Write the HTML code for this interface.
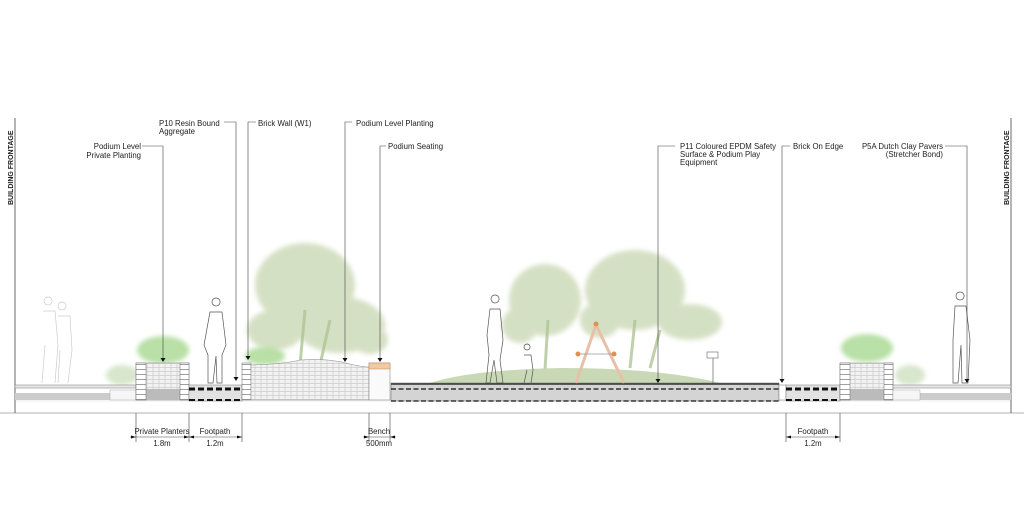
<!DOCTYPE html>
<html><head><meta charset="utf-8"><style>
html,body{margin:0;padding:0;background:#fff;}
svg{display:block;}
text{font-family:"Liberation Sans",sans-serif;font-size:7.8px;fill:#222;}
</style></head><body>
<svg width="1024" height="512" viewBox="0 0 1024 512" xmlns="http://www.w3.org/2000/svg">
<defs>
<filter id="b" x="-20%" y="-20%" width="140%" height="140%"><feGaussianBlur stdDeviation="2.5"/></filter>
<pattern id="brk" width="6" height="4" patternUnits="userSpaceOnUse"><rect width="6" height="4" fill="#f2f2f2"/><path d="M0 3.5H6M3 0V3.5" stroke="#bbb" stroke-width="0.5"/></pattern>
<pattern id="pier" width="10" height="5" patternUnits="userSpaceOnUse"><rect width="10" height="5" fill="#fff"/><path d="M0 4.5H10" stroke="#888" stroke-width="0.8"/></pattern>
</defs>

<!-- trees -->
<g fill="#c3d3aa" opacity="0.7" filter="url(#b)">
<ellipse cx="305" cy="285" rx="50" ry="42"/>
<ellipse cx="340" cy="325" rx="45" ry="28"/>
<ellipse cx="275" cy="330" rx="28" ry="20"/>
<ellipse cx="370" cy="340" rx="18" ry="14"/>
<ellipse cx="545" cy="300" rx="36" ry="36"/>
<ellipse cx="520" cy="325" rx="18" ry="18"/>
<ellipse cx="635" cy="290" rx="50" ry="40"/>
<ellipse cx="690" cy="322" rx="32" ry="18"/>
<ellipse cx="600" cy="320" rx="20" ry="18"/>
</g>
<g stroke="#b0c596" stroke-width="3" opacity="0.8">
<path d="M300 365 L305 310 M320 365 L330 320 M545 370 L548 320 M630 368 L635 320 M650 368 L660 330"/>
</g>
<!-- shrubs -->
<g filter="url(#b)">
<ellipse cx="163" cy="350" rx="26" ry="14" fill="#a8d890" opacity="0.8"/>
<ellipse cx="122" cy="375" rx="16" ry="10" fill="#cde0c0" opacity="0.8"/>
<ellipse cx="265" cy="356" rx="20" ry="9" fill="#a8d890" opacity="0.8"/>
<ellipse cx="867" cy="348" rx="26" ry="14" fill="#a8d890" opacity="0.8"/>
<ellipse cx="910" cy="375" rx="15" ry="10" fill="#cde0c0" opacity="0.8"/>
</g>
<!-- mound -->
<path d="M430 383 Q470 370 560 368 Q660 368 720 383 Z" fill="#c9d9b5"/>

<!-- baseline -->
<line x1="0" y1="413" x2="1024" y2="413" stroke="#999" stroke-width="0.8"/>
<line x1="15" y1="401" x2="1011" y2="401" stroke="#ddd" stroke-width="0.6"/>
<!-- building frontage -->
<line x1="15" y1="118" x2="15" y2="413" stroke="#444" stroke-width="0.8"/>
<line x1="1011" y1="118" x2="1011" y2="413" stroke="#444" stroke-width="0.8"/>
<text transform="translate(13,205) rotate(-90)" style="font-weight:bold;font-size:7px">BUILDING FRONTAGE</text>
<text transform="translate(1009,205) rotate(-90)" style="font-weight:bold;font-size:7px">BUILDING FRONTAGE</text>

<!-- left paving -->
<rect x="15" y="385" width="121" height="3" fill="#e8e8e8" stroke="#777" stroke-width="0.5"/>
<rect x="15" y="393" width="95" height="7" fill="#ccc"/>
<rect x="110" y="390" width="26" height="10" fill="#f6f6f6" stroke="#999" stroke-width="0.4"/>
<!-- left planter -->
<rect x="136" y="363" width="53" height="37" fill="url(#brk)" stroke="#888" stroke-width="0.5"/>
<rect x="146" y="389" width="34" height="11" fill="#bbb"/>
<rect x="136" y="363" width="10" height="37" fill="url(#pier)" stroke="#666" stroke-width="0.5"/>
<rect x="180" y="363" width="9" height="37" fill="url(#pier)" stroke="#666" stroke-width="0.5"/>
<!-- left footpath -->
<rect x="189" y="385" width="53" height="16" fill="#e2e2e2" stroke="#777" stroke-width="0.5"/>
<line x1="189" y1="389" x2="242" y2="389" stroke="#111" stroke-width="3" stroke-dasharray="6,3"/>
<line x1="189" y1="400" x2="242" y2="400" stroke="#111" stroke-width="2" stroke-dasharray="6,3"/>
<!-- brick wall pier -->
<rect x="242" y="363" width="9" height="37" fill="url(#pier)" stroke="#666" stroke-width="0.5"/>
<!-- raised planter -->
<path d="M251 365 Q285 364 300 360 Q330 358 350 364 Q362 367 369 367 L369 400 L251 400 Z" fill="url(#brk)" stroke="#888" stroke-width="0.5"/>
<!-- bench -->
<rect x="369" y="363" width="21" height="37" fill="#fafafa" stroke="#777" stroke-width="0.5"/>
<rect x="369" y="363" width="21" height="6" fill="#f0c9a0" stroke="#c08a60" stroke-width="0.5"/>
<!-- play area -->
<rect x="391" y="383" width="388" height="18" fill="#d4d4d4" stroke="#666" stroke-width="0.5"/>
<line x1="391" y1="384" x2="779" y2="384" stroke="#333" stroke-width="1.4"/>
<line x1="391" y1="389" x2="779" y2="389" stroke="#111" stroke-width="1.3" stroke-dasharray="5,2.5"/>
<line x1="391" y1="401" x2="779" y2="401" stroke="#111" stroke-width="1.3" stroke-dasharray="5,2.5"/>
<!-- brick on edge -->
<rect x="779" y="385" width="7" height="15" fill="#fff" stroke="#777" stroke-width="0.5"/>
<!-- right footpath -->
<rect x="786" y="385" width="54" height="16" fill="#e2e2e2" stroke="#777" stroke-width="0.5"/>
<line x1="786" y1="389" x2="840" y2="389" stroke="#111" stroke-width="3" stroke-dasharray="6,3"/>
<line x1="786" y1="400" x2="840" y2="400" stroke="#111" stroke-width="2" stroke-dasharray="6,3"/>
<!-- right planter -->
<rect x="840" y="363" width="53" height="37" fill="url(#brk)" stroke="#888" stroke-width="0.5"/>
<rect x="850" y="389" width="34" height="11" fill="#bbb"/>
<rect x="840" y="363" width="10" height="37" fill="url(#pier)" stroke="#666" stroke-width="0.5"/>
<rect x="884" y="363" width="9" height="37" fill="url(#pier)" stroke="#666" stroke-width="0.5"/>
<!-- right paving -->
<rect x="893" y="385" width="118" height="3" fill="#e8e8e8" stroke="#777" stroke-width="0.5"/>
<rect x="920" y="393" width="91" height="7" fill="#ccc"/>
<rect x="893" y="390" width="27" height="10" fill="#f6f6f6" stroke="#999" stroke-width="0.4"/>

<!-- swing -->
<g stroke="#e8c0a8" stroke-width="3" fill="none">
<path d="M596 325 L576 383 M596 325 L624 383"/>
</g>
<line x1="580" y1="354" x2="614" y2="354" stroke="#999" stroke-width="0.7"/>
<circle cx="596" cy="324" r="2.5" fill="#e09050"/><circle cx="578" cy="354" r="2.5" fill="#e09050"/><circle cx="614" cy="354" r="2.5" fill="#e09050"/>
<!-- basketball -->
<rect x="707" y="352" width="11" height="6" fill="#fff" stroke="#666" stroke-width="0.6"/>
<line x1="713" y1="358" x2="713" y2="383" stroke="#777" stroke-width="0.8"/>

<!-- people -->
<g fill="none" stroke="#555" stroke-width="0.7">
<path d="M216 306 a4 4 0 1 1 0.1 0 M210 312 L222 312 L226 345 L222 355 L222 383 L217 383 L216 356 L213 383 L208 383 L208 355 L204 345 Z"/>
<path d="M495 303 a4 4 0 1 1 0.1 0 M490 309 L500 309 L503 340 L500 360 L503 383 L497 383 L494 360 L490 383 L486 383 L489 355 L487 335 Z"/>
<path d="M527 350 a3 3 0 1 1 0.1 0 M524 355 L531 355 L533 370 L531 383 M527 370 L524 383"/>
<path d="M960 300 a4 4 0 1 1 0.1 0 M955 306 L966 306 L970 340 L968 383 L962 383 L961 345 L958 383 L953 383 L953 340 Z"/>
</g>
<g fill="none" stroke="#ccc" stroke-width="0.7">
<path d="M48 305 a4 4 0 1 1 0.1 0 M43 311 L55 311 L58 345 L55 383 M45 345 L42 383 M62 310 a4 4 0 1 1 0.1 0 M58 316 L70 316 L72 350 L68 383 M60 350 L58 383"/>
</g>

<!-- leaders -->
<g stroke="#444" stroke-width="0.6" fill="none">
<path d="M142 146 H163 V360"/>
<path d="M224 122 H236 V379"/>
<path d="M256 122 H248 V358"/>
<path d="M352 122 H345 V360"/>
<path d="M386 146 H380 V360"/>
<path d="M675 146 H658 V381"/>
<path d="M790 146 H782 V381"/>
<path d="M945 146 H967 V381"/>
</g>
<g fill="#111">
<path d="M160.5 358 h5 l-2.5 4z"/><path d="M233.5 377 h5 l-2.5 4z"/><path d="M245.5 356 h5 l-2.5 4z"/><path d="M342.5 358 h5 l-2.5 4z"/><path d="M377.5 358 h5 l-2.5 4z"/><path d="M655.5 379 h5 l-2.5 4z"/><path d="M779.5 379 h5 l-2.5 4z"/><path d="M964.5 379 h5 l-2.5 4z"/>
</g>
<text x="141" y="149" text-anchor="end">Podium Level</text>
<text x="141" y="158" text-anchor="end">Private Planting</text>
<text x="159" y="126">P10 Resin Bound</text>
<text x="159" y="134">Aggregate</text>
<text x="258" y="126">Brick Wall (W1)</text>
<text x="356" y="126">Podium Level Planting</text>
<text x="388" y="149">Podium Seating</text>
<text x="680" y="149">P11 Coloured EPDM Safety</text>
<text x="680" y="157">Surface &amp; Podium Play</text>
<text x="680" y="165">Equipment</text>
<text x="793" y="149">Brick On Edge</text>
<text x="943" y="149" text-anchor="end">P5A Dutch Clay Pavers</text>
<text x="943" y="157" text-anchor="end">(Stretcher Bond)</text>

<!-- dimensions -->
<g stroke="#444" stroke-width="0.6">
<path d="M136 413 V442 M189 413 V442 M242 413 V442 M369 413 V442 M390 413 V442 M786 413 V442 M840 413 V442"/>
<path d="M130 437 H242 M363 437 H396 M786 437 H840"/>
</g>
<g fill="#111">
<path d="M136 437 l-5 -1.5 v3z"/><path d="M189 437 l-5 -1.5 v3z"/><path d="M189 437 l5 -1.5 v3z"/><path d="M242 437 l-5 -1.5 v3z"/>
<path d="M369 437 l-5 -1.5 v3z"/><path d="M390 437 l5 -1.5 v3z"/>
<path d="M786 437 l5 -1.5 v3z"/><path d="M840 437 l-5 -1.5 v3z"/>
</g>
<text x="162" y="434" text-anchor="middle">Private Planters</text>
<text x="162" y="446" text-anchor="middle">1.8m</text>
<text x="215" y="434" text-anchor="middle">Footpath</text>
<text x="215" y="446" text-anchor="middle">1.2m</text>
<text x="379" y="434" text-anchor="middle">Bench</text>
<text x="379" y="446" text-anchor="middle">500mm</text>
<text x="813" y="434" text-anchor="middle">Footpath</text>
<text x="813" y="446" text-anchor="middle">1.2m</text>
</svg>
</body></html>
